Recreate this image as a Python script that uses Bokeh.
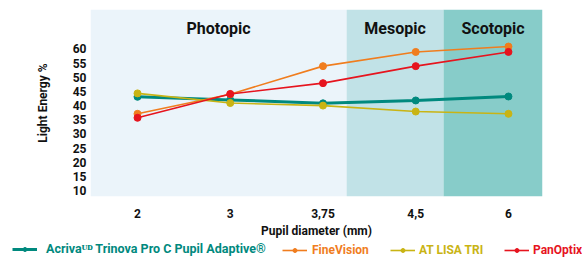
from bokeh.plotting import figure
from bokeh.layouts import column, row
from bokeh.models import Legend, LegendItem, FixedTicker, Range1d, BoxAnnotation, ColumnDataSource
from bokeh.embed import file_html
from bokeh.resources import INLINE
from bokeh.core.properties import value

# ---- data ----
pupil_labels = ["2", "3", "3,75", "4,5", "6"]
acriva = [43.1, 42.0, 40.8, 41.8, 43.2]
finevision = [37.1, 44.0, 53.9, 58.9, 60.8]
at_lisa_tri = [44.3, 40.9, 40.0, 37.9, 37.1]
panoptix = [35.7, 44.1, 47.9, 53.9, 58.9]
y_ticks = [10, 15, 20, 25, 30, 35, 40, 45, 50, 55, 60]
zone_names = ["Photopic", "Mesopic", "Scotopic"]
zone_edges = [-0.507, 2.255, 3.30, 4.367]

series_names = ["Acrivaᵁᴰ Trinova Pro C Pupil Adaptive®", "FineVision", "AT LISA TRI", "PanOptix"]
series_values = [acriva, finevision, at_lisa_tri, panoptix]

# ---- styles ----
FONT = "Roboto"
zone_colors = ["#EBF4FA", "#C1E2E7", "#87CCC9"]
series_colors = ["#00897E", "#F07D1E", "#C9B414", "#E6141E"]
series_widths = [3, 1.6, 1.6, 1.6]
legend_x = [12, 282, 390, 504]
legend_standoff = [9, 5, 4, 4]
legend_font = ["12.5px", "12px", "12px", "12px"]

xs = list(range(len(pupil_labels)))

p = figure(width=582, height=240, output_backend="svg", toolbar_location=None,
           x_range=Range1d(zone_edges[0], zone_edges[-1]), y_range=Range1d(7.97, 73.85),
           min_border_left=90, min_border_right=40, min_border_top=9, min_border_bottom=36)
p.outline_line_color = None
p.background_fill_color = "white"
p.border_fill_color = "white"
p.xgrid.visible = False
p.ygrid.visible = False

for i, c in enumerate(zone_colors):
    p.add_layout(BoxAnnotation(left=zone_edges[i], right=zone_edges[i + 1],
                               fill_color=c, fill_alpha=1, line_alpha=0, level="underlay"))

zone_src = ColumnDataSource(dict(
    x=[(zone_edges[i] + zone_edges[i + 1]) / 2 for i in range(len(zone_names))],
    y=[67.3] * len(zone_names), t=zone_names))
p.text(x="x", y="y", text="t", source=zone_src, text_font=value(FONT), text_font_style="bold",
       text_font_size="16px", text_align="center", text_baseline="middle", text_color="#111111")

# legend strip below the chart
lf = figure(width=582, height=17, output_backend="svg", toolbar_location=None,
            x_range=Range1d(0, 1), y_range=Range1d(0, 1),
            x_axis_location=None, y_axis_location=None,
            min_border_left=0, min_border_right=0, min_border_top=0, min_border_bottom=0)
lf.grid.visible = False
lf.outline_line_color = None

for name, vals, col, w, lx, so, fs in zip(series_names, series_values, series_colors, series_widths,
                                          legend_x, legend_standoff, legend_font):
    src = ColumnDataSource(dict(x=xs, y=vals))
    p.line("x", "y", source=src, line_color=col, line_width=w)
    p.scatter("x", "y", source=src, size=7, fill_color=col, line_color=col)
    hidden = ColumnDataSource(dict(x=[-10, -9], y=[-10, -10]))
    l = lf.line("x", "y", source=hidden, line_color=col, line_width=w)
    s = lf.scatter("x", "y", source=hidden, size=4, fill_color=col, line_color=col)
    leg = Legend(items=[LegendItem(label=name, renderers=[l, s])], location=(lx, 0),
                 orientation="horizontal", background_fill_alpha=0, border_line_alpha=0,
                 padding=0, margin=0, spacing=0, glyph_width=25, glyph_height=10,
                 label_height=10, label_standoff=so,
                 label_text_font=FONT, label_text_font_style="bold",
                 label_text_font_size=fs, label_text_color=col)
    lf.add_layout(leg, "center")

# axes
p.xaxis.ticker = FixedTicker(ticks=xs)
p.xaxis.major_label_overrides = {i: lab for i, lab in enumerate(pupil_labels)}
p.yaxis.ticker = FixedTicker(ticks=y_ticks)
for ax in (p.xaxis, p.yaxis):
    ax.axis_line_color = None
    ax.major_tick_line_color = None
    ax.minor_tick_line_color = None
    ax.major_tick_out = 0
    ax.major_tick_in = 0
    ax.minor_tick_out = 0
    ax.minor_tick_in = 0
    ax.major_label_text_font = FONT
    ax.major_label_text_font_style = "bold"
    ax.major_label_text_font_size = "12px"
    ax.major_label_text_color = "#111111"
    ax.axis_label_text_font = FONT
    ax.axis_label_text_font_style = "bold"
    ax.axis_label_text_font_size = "12px"
    ax.axis_label_text_color = "#111111"
p.xaxis.axis_label = "Pupil diameter (mm)"
p.yaxis.axis_label = "Light Energy %"
p.xaxis.major_label_standoff = 12
p.xaxis.axis_label_standoff = 3
p.yaxis.major_label_standoff = 4
p.yaxis.axis_label_standoff = 20

layout = column(p, row(lf), spacing=0)
open("out.html", "w").write(file_html(layout, INLINE))
